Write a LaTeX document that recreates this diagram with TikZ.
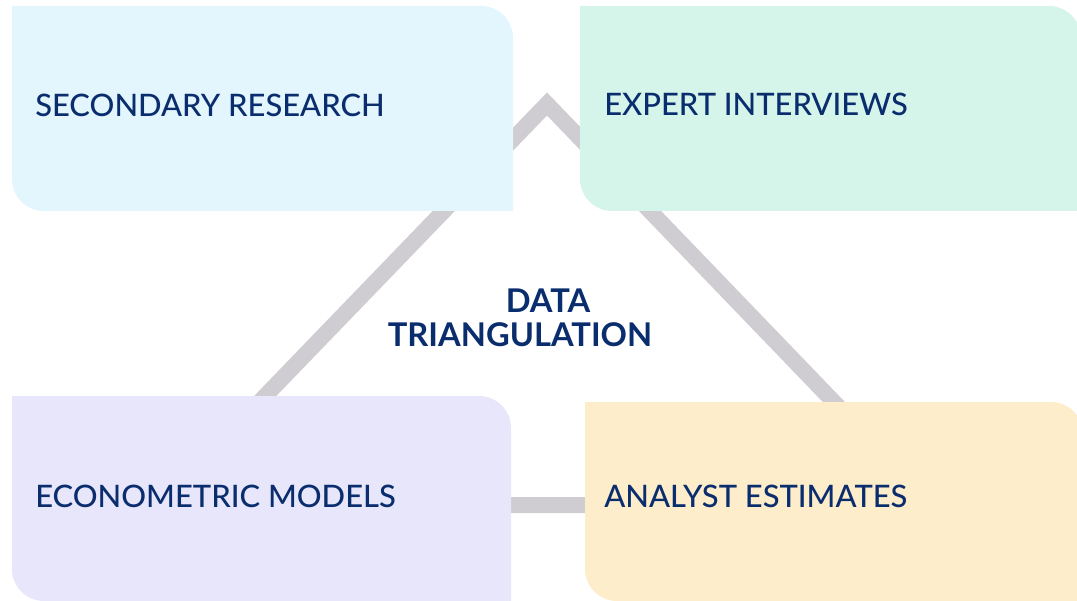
\documentclass[tikz,border=0pt]{standalone}
\usepackage{fontspec}
\setmainfont{Lato}
\newfontfamily\medfont{Lato Medium}
\usepackage{tikz}
\usetikzlibrary{calc,positioning}
\definecolor{txtblue}{RGB}{10,45,110}
\definecolor{band}{RGB}{207,205,209}
\definecolor{secbg}{RGB}{227,245,253}
\definecolor{expbg}{RGB}{214,245,234}
\definecolor{ecobg}{RGB}{232,230,251}
\definecolor{anabg}{RGB}{253,237,203}
\def\rad{32}
\tikzstyle{boxlabel} = [inner sep=0pt, anchor=base west, text=txtblue, font=\medfont\fontsize{23.2}{28}\selectfont]
\tikzstyle{title}    = [inner sep=0pt, anchor=base, text=txtblue, font=\bfseries\fontsize{24.5}{28}\selectfont]
\tikzstyle{link}     = [band, line width=12pt, miter limit=10, line join=miter]
\begin{document}
\begin{tikzpicture}[x=0.75pt,y=0.75pt]
		\clip (0,0) rectangle (1077,600);
		% triangle behind the boxes
		\coordinate (apex) at (547,496);
		\coordinate (lft) at (160,95);
		\coordinate (rgt) at (933,95);
		\draw[link] (apex) -- (lft) -- (rgt) -- cycle;
		% the four boxes, rounded at top right and bottom left
		\foreach \bx/\by/\bw/\bh/\col/\nm/\tx/\ty/\txt in {12/389/501/205/secbg/sec/35/483/SECONDARY RESEARCH,
				580/389/501/205/expbg/exp/604/484/EXPERT INTERVIEWS,
				12/-1/499/205/ecobg/eco/35/93/ECONOMETRIC MODELS,
				585/-1/498/199/anabg/ana/604/93/ANALYST ESTIMATES}{
				\fill[\col] (\bx,\by+\bh) -- (\bx+\bw-\rad,\by+\bh)
					arc[start angle=90, end angle=0, radius=\rad] -- (\bx+\bw,\by)
					-- (\bx+\rad,\by) arc[start angle=270, end angle=180, radius=\rad] -- cycle;
				\node[boxlabel] (\nm) at (\tx,\ty) {\txt};
			}
		\node[title] (data) at (548,287) {DATA};
		\node[title] (triang) at (520,253) {TRIANGULATION};
	\end{tikzpicture}
\end{document}
